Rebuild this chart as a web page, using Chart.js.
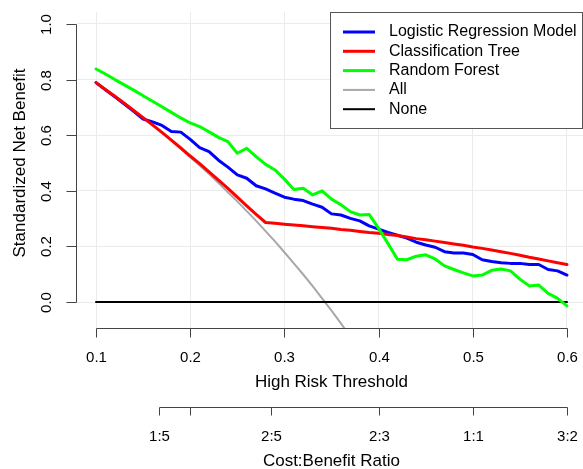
<!DOCTYPE html>
<html>
<head>
<meta charset="utf-8">
<script src="https://cdn.jsdelivr.net/npm/chart.js@4.4.0/dist/chart.umd.min.js"></script>
<style>
  html, body { margin: 0; padding: 0; background: #fff; }
  canvas { display: block; }
</style>
</head>
<body>
<canvas id="dca" width="583" height="469"></canvas>
<script>
// thresholds used by the model curves (0.10 .. 0.60)
const thresholds = [0.10, 0.11, 0.12, 0.13, 0.14, 0.15, 0.16, 0.17, 0.18, 0.19,
  0.20, 0.21, 0.22, 0.23, 0.24, 0.25, 0.26, 0.27, 0.28, 0.29,
  0.30, 0.31, 0.32, 0.33, 0.34, 0.35, 0.36, 0.37, 0.38, 0.39,
  0.40, 0.41, 0.42, 0.43, 0.44, 0.45, 0.46, 0.47, 0.48, 0.49,
  0.50, 0.51, 0.52, 0.53, 0.54, 0.55, 0.56, 0.57, 0.58, 0.59, 0.60];

const logisticNB = [0.789, 0.763, 0.738, 0.712, 0.686, 0.658, 0.648, 0.635, 0.613, 0.611,
  0.585, 0.555, 0.541, 0.510, 0.485, 0.457, 0.445, 0.418, 0.407, 0.392,
  0.377, 0.370, 0.365, 0.352, 0.341, 0.317, 0.313, 0.301, 0.292, 0.274,
  0.262, 0.250, 0.240, 0.230, 0.215, 0.205, 0.197, 0.181, 0.176, 0.176,
  0.171, 0.152, 0.146, 0.141, 0.139, 0.139, 0.135, 0.135, 0.117, 0.112, 0.097];

const treeNB = [0.789, 0.764, 0.740, 0.715, 0.689, 0.663, 0.637, 0.610, 0.582, 0.554,
  0.525, 0.498, 0.468, 0.438, 0.409, 0.377, 0.346, 0.315, 0.286, 0.283,
  0.280, 0.277, 0.274, 0.271, 0.268, 0.265, 0.261, 0.258, 0.254, 0.250,
  0.247, 0.243, 0.239, 0.234, 0.228, 0.224, 0.219, 0.214, 0.209, 0.204,
  0.198, 0.193, 0.187, 0.181, 0.175, 0.168, 0.161, 0.155, 0.148, 0.141, 0.135];

const forestNB = [0.838, 0.820, 0.800, 0.781, 0.762, 0.742, 0.722, 0.702, 0.682, 0.662,
  0.644, 0.631, 0.612, 0.592, 0.577, 0.535, 0.553, 0.523, 0.495, 0.475,
  0.442, 0.405, 0.409, 0.385, 0.400, 0.370, 0.350, 0.325, 0.313, 0.315,
  0.265, 0.210, 0.154, 0.152, 0.165, 0.170, 0.155, 0.130, 0.117, 0.105,
  0.094, 0.097, 0.114, 0.119, 0.112, 0.082, 0.058, 0.061, 0.031, 0.013, -0.014];

// treat-all curve, runs off the bottom of the plot
const allThresholds = [0.10, 0.11, 0.12, 0.13, 0.14, 0.15, 0.16, 0.17, 0.18, 0.19,
  0.20, 0.21, 0.22, 0.23, 0.24, 0.25, 0.26, 0.27, 0.28, 0.29,
  0.30, 0.31, 0.32, 0.33, 0.34, 0.35, 0.36, 0.37];
const allNB = [0.787, 0.763, 0.739, 0.714, 0.688, 0.662, 0.635, 0.608, 0.580, 0.551,
  0.521, 0.491, 0.460, 0.428, 0.395, 0.362, 0.327, 0.292, 0.255, 0.218,
  0.179, 0.139, 0.099, 0.057, 0.013, -0.031, -0.077, -0.125];

const noneThresholds = [0.10, 0.60];
const noneNB = [0, 0];

const seriesLabels = ['Logistic Regression Model', 'Classification Tree', 'Random Forest', 'All', 'None'];
const seriesColors = ['#0000ff', '#ff0000', '#00ff00', '#a8a8a8', '#000000'];

const xTicks = [0.1, 0.2, 0.3, 0.4, 0.5, 0.6];
const yTicks = [0.0, 0.2, 0.4, 0.6, 0.8, 1.0];
const costTicks = [1 / 6, 0.2, 2 / 7, 0.4, 0.5, 0.6];
const costLabels = ['1:5', '', '2:5', '2:3', '1:1', '3:2'];

const FONT = '"Liberation Sans", Arial, Helvetica, sans-serif';
const AXIS_COLOR = '#444';

function toPoints(xs, ys) {
  return xs.map((x, i) => ({ x: x, y: ys[i] }));
}

// R-style axes, second cost:benefit axis and boxed legend
const rDecorations = {
  id: 'rDecorations',
  afterDraw(chart) {
    const { ctx, chartArea } = chart;
    const xs = chart.scales.x;
    const ys = chart.scales.y;
    const seg = (x1, y1, x2, y2) => {
      ctx.beginPath();
      ctx.moveTo(x1, y1);
      ctx.lineTo(x2, y2);
      ctx.stroke();
    };
    const crisp = (v) => Math.round(v) + 0.5;

    ctx.save();
    ctx.strokeStyle = AXIS_COLOR;
    ctx.lineWidth = 1;
    ctx.fillStyle = '#000';

    // y axis
    const ax = chartArea.left - 0.5;
    seg(ax, crisp(ys.getPixelForValue(yTicks[0])), ax, crisp(ys.getPixelForValue(yTicks[yTicks.length - 1])));
    ctx.font = '15px ' + FONT;
    ctx.textAlign = 'center';
    ctx.textBaseline = 'middle';
    yTicks.forEach((v) => {
      const py = crisp(ys.getPixelForValue(v));
      seg(ax - 10, py, ax, py);
      ctx.save();
      ctx.translate(47, py);
      ctx.rotate(-Math.PI / 2);
      ctx.fillText(v.toFixed(1), 0, 0);
      ctx.restore();
    });
    ctx.save();
    ctx.font = '17px ' + FONT;
    ctx.translate(20, (ys.getPixelForValue(0) + ys.getPixelForValue(1)) / 2);
    ctx.rotate(-Math.PI / 2);
    ctx.fillText('Standardized Net Benefit', 0, 0);
    ctx.restore();

    // threshold axis
    const bx = chartArea.bottom - 0.5;
    seg(crisp(xs.getPixelForValue(xTicks[0])), bx, crisp(xs.getPixelForValue(xTicks[xTicks.length - 1])), bx);
    ctx.font = '15px ' + FONT;
    xTicks.forEach((v) => {
      const px = crisp(xs.getPixelForValue(v));
      seg(px, bx, px, bx + 9);
      ctx.fillText(v.toFixed(1), px, 358);
    });
    ctx.font = '17px ' + FONT;
    const midX = (chartArea.left + xs.getPixelForValue(0.62)) / 2;
    ctx.fillText('High Risk Threshold', midX, 382);

    // cost:benefit axis
    const cy = 407.5;
    seg(crisp(xs.getPixelForValue(costTicks[0])), cy, crisp(xs.getPixelForValue(costTicks[costTicks.length - 1])), cy);
    ctx.font = '15px ' + FONT;
    costTicks.forEach((v, i) => {
      const px = crisp(xs.getPixelForValue(v));
      seg(px, cy, px, cy + 8);
      if (costLabels[i]) ctx.fillText(costLabels[i], px, 437);
    });
    ctx.font = '17px ' + FONT;
    ctx.fillText('Cost:Benefit Ratio', midX, 461);

    // legend
    const lx = 330.5, ly = 12.5, lw = 252, lh = 116;
    ctx.fillStyle = '#fff';
    ctx.fillRect(lx, ly, lw, lh);
    ctx.strokeStyle = '#555';
    ctx.strokeRect(lx, ly, lw, lh);
    ctx.font = '16px ' + FONT;
    ctx.textAlign = 'left';
    ctx.fillStyle = '#000';
    seriesLabels.forEach((label, i) => {
      const rowY = 32 + i * 19.3;
      ctx.strokeStyle = seriesColors[i];
      ctx.lineWidth = i < 3 ? 3 : 2;
      seg(343, rowY, 375, rowY);
      ctx.fillText(label, 389, rowY);
    });
    ctx.restore();
  }
};

const lineStyle = (i, width, order) => ({
  label: seriesLabels[i],
  borderColor: seriesColors[i],
  backgroundColor: seriesColors[i],
  borderWidth: width,
  pointRadius: 0,
  tension: 0,
  fill: false,
  borderJoinStyle: 'round',
  borderCapStyle: 'round',
  order: order,
});

new Chart(document.getElementById('dca'), {
  type: 'line',
  data: {
    datasets: [
      Object.assign(lineStyle(0, 3, 3), { data: toPoints(thresholds, logisticNB) }),
      Object.assign(lineStyle(1, 3, 2), { data: toPoints(thresholds, treeNB) }),
      Object.assign(lineStyle(2, 3, 1), { data: toPoints(thresholds, forestNB) }),
      Object.assign(lineStyle(3, 2, 5), { data: toPoints(allThresholds, allNB) }),
      Object.assign(lineStyle(4, 2, 4), { data: toPoints(noneThresholds, noneNB) }),
    ],
  },
  options: {
    responsive: false,
    animation: false,
    devicePixelRatio: 1,
    layout: { padding: { left: 77, right: 0, top: 12, bottom: 140 } },
    plugins: {
      legend: { display: false },
      tooltip: { enabled: false },
    },
    scales: {
      x: {
        type: 'linear',
        min: 0.0798,
        max: 0.617,
        afterBuildTicks: (s) => { s.ticks = xTicks.map((v) => ({ value: v })); },
        afterFit: (s) => { s.height = 0; },
        ticks: { display: false },
        border: { display: false },
        grid: { color: '#ebebeb', lineWidth: 1, drawTicks: false },
      },
      y: {
        type: 'linear',
        min: -0.097,
        max: 1.043,
        afterBuildTicks: (s) => { s.ticks = yTicks.map((v) => ({ value: v })); },
        afterFit: (s) => { s.width = 0; },
        ticks: { display: false },
        border: { display: false },
        grid: { color: '#ebebeb', lineWidth: 1, drawTicks: false },
      },
    },
  },
  plugins: [rDecorations],
});
</script>
</body>
</html>
